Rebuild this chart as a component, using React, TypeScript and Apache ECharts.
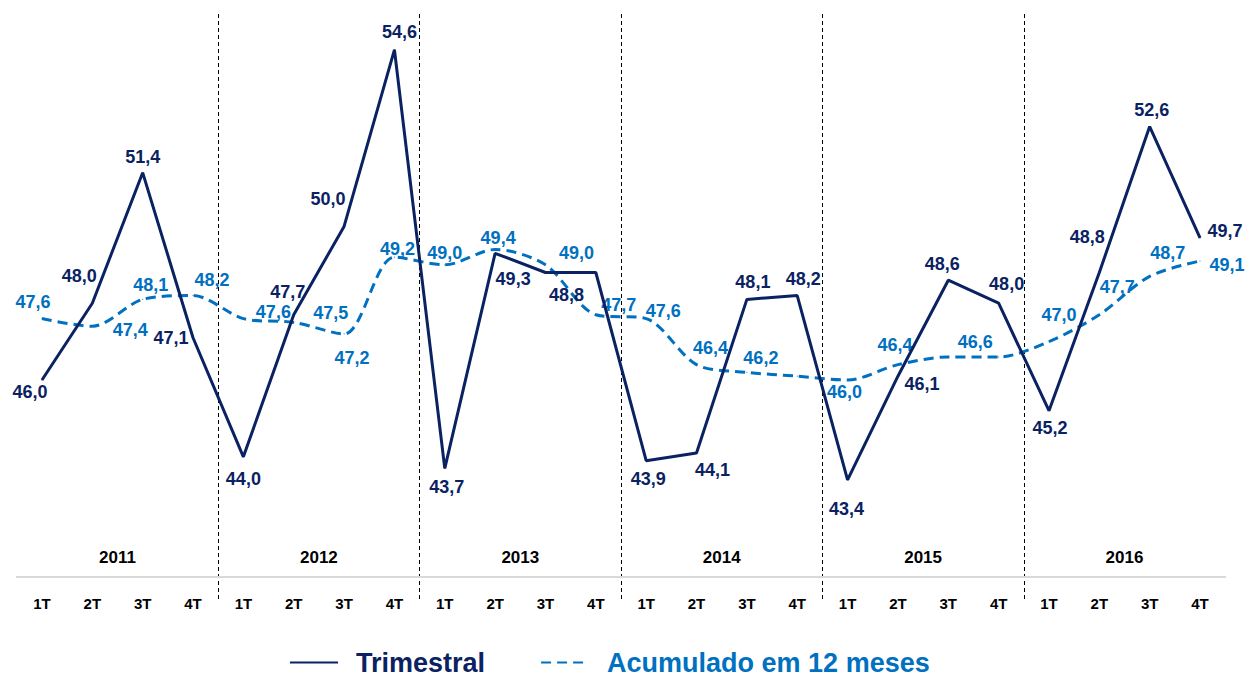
import React, { useEffect, useRef } from "react";
import * as echarts from "echarts";

const years = ["2011", "2012", "2013", "2014", "2015", "2016"];
const quarters = ["1T", "2T", "3T", "4T"];
const quarterLabels = years.flatMap(() => quarters);

const trimestral = [
  46.0, 48.0, 51.4, 47.1,
  44.0, 47.7, 50.0, 54.6,
  43.7, 49.3, 48.8, 48.8,
  43.9, 44.1, 48.1, 48.2,
  43.4, 46.1, 48.6, 48.0,
  45.2, 48.8, 52.6, 49.7,
];
const acumulado = [
  47.6, 47.4, 48.1, 48.2,
  47.6, 47.5, 47.2, 49.2,
  49.0, 49.4, 49.0, 47.7,
  47.6, 46.4, 46.2, 46.1,
  46.0, 46.4, 46.6, 46.6,
  47.0, 47.7, 48.7, 49.1,
];

// label placement (offset from point), null = label hidden
const trimLabelOffsets: (number[] | null)[] = [
  [-12, 12], [-13, -27], [0, -16], [-22, 0],
  [0, 22], [-6, -23], [-16, -27], [5, -18],
  [2, 19], [18, 26], [21, 22], null,
  [2, 18], [16, 17], [6, -17], [6, -17],
  [-1, 29], [24, 8], [-6, -16], [8, -19],
  [1, 17], [-12, -36], [2, -17], [25, -7],
];
const acumLabelOffsets: (number[] | null)[] = [
  [-9, -17], [38, 4], [8, -14], [19, -16],
  [30, -7], [37, -9], [8, 24], [3, -8],
  [0, -12], [3, -11], [31, -12], [23, -10],
  [17, -8], [14, -17], [14, -14], null,
  [-3, 12], [-3, -20], [27, -15], null,
  [10, -27], [18, -28], [18, -23], [27, 4],
];

const NAVY = "#0A2262";
const BLUE = "#0070C0";
const FONT = "Liberation Sans, Arial, sans-serif";

const fmt = (v: number) => v.toFixed(1).replace(".", ",");

function buildData(values: number[], offsets: (number[] | null)[], color: string) {
  return values.map((v, i) => {
    const off = offsets[i];
    return {
      value: v,
      label: off
        ? {
            show: true,
            position: "inside",
            offset: off,
            color,
            fontFamily: FONT,
            fontWeight: "bold",
            fontSize: 18,
            formatter: () => fmt(v),
          }
        : { show: false },
    };
  });
}

export default function App() {
  const ref = useRef<HTMLDivElement>(null);
  useEffect(() => {
    if (!ref.current) return;
    const chart = echarts.init(ref.current, undefined, { renderer: "svg" });
    const gridLR = { left: 16.8, right: 19.8 };
    chart.setOption({
      animation: false,
      backgroundColor: "#ffffff",
      grid: [
        { ...gridLR, top: 11.4, bottom: 104 },
        { ...gridLR, top: 14, bottom: 79 },
      ],
      xAxis: [
        {
          type: "category",
          gridIndex: 0,
          data: quarterLabels,
          boundaryGap: true,
          axisLine: { show: true, lineStyle: { color: "#D9D9D9", width: 2 } },
          axisTick: { show: false },
          axisLabel: {
            color: "#000",
            fontFamily: FONT,
            fontWeight: "bold",
            fontSize: 15,
            margin: 19,
            interval: 0,
          },
          splitLine: { show: false },
        },
        {
          type: "category",
          gridIndex: 0,
          position: "bottom",
          data: years,
          boundaryGap: true,
          axisLine: { show: false },
          axisTick: { show: false },
          axisLabel: {
            inside: true,
            color: "#000",
            fontFamily: FONT,
            fontWeight: "bold",
            fontSize: 17,
            margin: 11,
            interval: 0,
          },
          splitLine: { show: false },
        },
        {
          type: "value",
          gridIndex: 1,
          min: 0,
          max: quarterLabels.length,
          interval: quarters.length,
          axisLine: { show: false },
          axisTick: { show: false },
          axisLabel: { show: false },
          splitLine: {
            show: true,
            showMinLine: false,
            showMaxLine: false,
            lineStyle: { color: "#000", width: 1, type: [4, 3] },
          },
        },
      ],
      yAxis: [
        {
          type: "value",
          gridIndex: 0,
          min: 40.87,
          max: 55.6,
          show: false,
          splitLine: { show: false },
        },
        {
          type: "value",
          gridIndex: 1,
          min: 0,
          max: 1,
          show: false,
          splitLine: { show: false },
        },
      ],
      legend: {
        left: 289,
        top: 649,
        padding: 0,
        itemWidth: 48,
        itemHeight: 20,
        itemGap: 55,
        itemStyle: { opacity: 0 },
        data: [
          { name: "Trimestral", textStyle: { color: NAVY } },
          { name: "Acumulado em 12 meses", textStyle: { color: BLUE } },
        ],
        textStyle: {
          fontFamily: FONT,
          fontWeight: "bold",
          fontSize: 27,
          padding: [0, 0, 0, 13],
        },
      },
      series: [
        {
          name: "Acumulado em 12 meses",
          type: "line",
          xAxisIndex: 0,
          yAxisIndex: 0,
          data: buildData(acumulado, acumLabelOffsets, BLUE),
          smooth: 0.3,
          symbol: "circle",
          symbolSize: 1,
          showSymbol: true,
          itemStyle: { color: BLUE },
          lineStyle: { color: BLUE, width: 3, type: [10, 6] },
          z: 2,
        },
        {
          name: "Trimestral",
          type: "line",
          xAxisIndex: 0,
          yAxisIndex: 0,
          data: buildData(trimestral, trimLabelOffsets, NAVY),
          symbol: "circle",
          symbolSize: 1,
          showSymbol: true,
          itemStyle: { color: NAVY },
          lineStyle: { color: NAVY, width: 3 },
          z: 3,
        },
        {
          name: "dividers",
          type: "scatter",
          xAxisIndex: 2,
          yAxisIndex: 1,
          data: [],
          silent: true,
        },
      ],
    });
    return () => chart.dispose();
  }, []);
  return (
    <div
      ref={ref}
      style={{ position: "fixed", left: 0, top: 0, width: 1245, height: 681 }}
    />
  );
}
